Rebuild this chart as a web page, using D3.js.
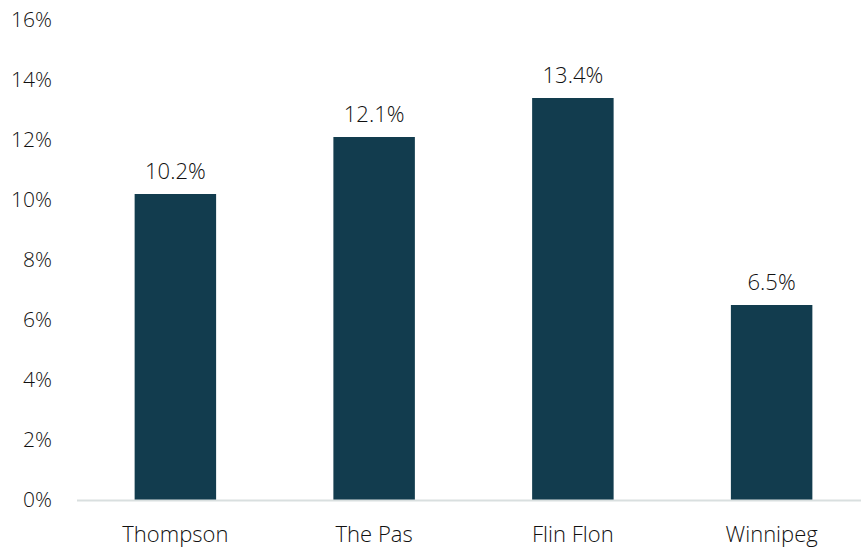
<!DOCTYPE html>
<html>
<head>
<meta charset="utf-8">
<script src="https://cdn.jsdelivr.net/npm/d3@7"></script>
<style>
  html, body { margin: 0; padding: 0; background: #fff; }
  svg { display: block; }
  text { font-family: "Open Sans", "Noto Sans", sans-serif; fill: #111; font-weight: 300; }
</style>
</head>
<body>
<svg id="chart" width="861" height="550"></svg>
<script>
// Share of population by community
const categories = ["Thompson", "The Pas", "Flin Flon", "Winnipeg"];
const values = [10.2, 12.1, 13.4, 6.5];
const yTicks = [0, 2, 4, 6, 8, 10, 12, 14, 16];

const svg = d3.select("#chart");
const width = 861, height = 550;
const margin = { top: 20, right: -10, bottom: 50, left: 76 };
const fontFamily = "'Open Sans', 'Noto Sans', sans-serif";
const textColor = "#111";

const x = d3.scaleBand()
  .domain(categories)
  .range([margin.left, width - margin.right])
  .paddingInner(0.59)
  .paddingOuter(0.295);

const y = d3.scaleLinear()
  .domain([0, 16])
  .range([height - margin.bottom, margin.top]);

// y-axis labels (no line, no ticks)
const yAxis = d3.axisLeft(y)
  .tickValues(yTicks)
  .tickFormat(d => d + "%")
  .tickSize(0)
  .tickPadding(0);

const gy = svg.append("g")
  .attr("transform", "translate(52,0)")
  .call(yAxis);
gy.select(".domain").remove();
gy.selectAll("text")
  .style("font-family", fontFamily)
  .style("font-size", "21px")
  .style("font-weight", 300)
  .style("fill", textColor);

// bars
svg.append("g").selectAll("rect")
  .data(values)
  .join("rect")
  .attr("x", (d, i) => x(categories[i]))
  .attr("width", x.bandwidth())
  .attr("y", d => y(d))
  .attr("height", d => y(0) - y(d))
  .attr("fill", "#123c4e");

// baseline
svg.append("line")
  .attr("x1", margin.left + 1)
  .attr("x2", width)
  .attr("y1", y(0) + 0.5)
  .attr("y2", y(0) + 0.5)
  .attr("stroke", "#d9dfdf")
  .attr("stroke-width", 2);

// x-axis category labels
const xAxis = d3.axisBottom(x).tickSize(0).tickPadding(0);
const gx = svg.append("g")
  .attr("transform", `translate(0,${y(0) + 26})`)
  .call(xAxis);
gx.select(".domain").remove();
gx.selectAll("text")
  .attr("dy", "0.71em")
  .style("font-family", fontFamily)
  .style("font-size", "22px")
  .style("font-weight", 300)
  .style("fill", textColor);

// value labels
svg.append("g").selectAll("text")
  .data(values)
  .join("text")
  .attr("x", (d, i) => x(categories[i]) + x.bandwidth() / 2)
  .attr("y", d => y(d) - 15)
  .attr("text-anchor", "middle")
  .style("font-size", "22px")
  .text(d => d.toFixed(1) + "%");
</script>
</body>
</html>
